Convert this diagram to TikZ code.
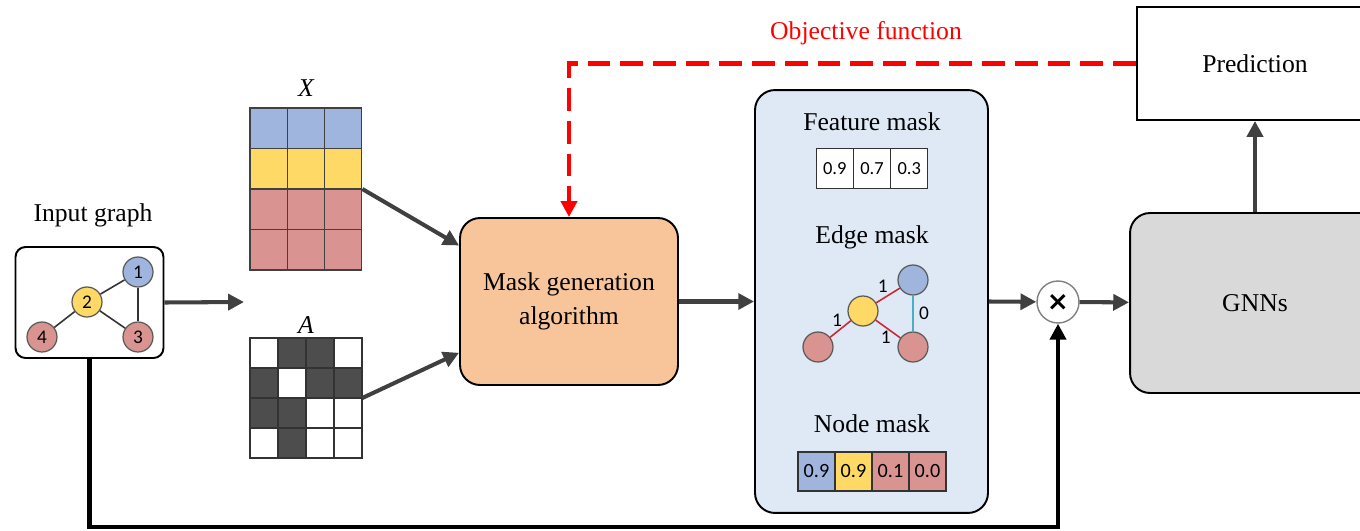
\documentclass[tikz,border=0pt]{standalone}
\usepackage{fontspec}
\setmainfont{Liberation Serif}
\newfontfamily\numfont{Carlito}
\newfontfamily\symfont{DejaVu Sans}
\usetikzlibrary{arrows.meta}
\definecolor{nodeblue}{RGB}{160,181,222}
\definecolor{nodeyellow}{RGB}{255,217,102}
\definecolor{nodered}{RGB}{217,148,145}
\definecolor{cellgray}{RGB}{77,77,77}
\definecolor{arrowgray}{RGB}{64,64,64}
\definecolor{maskorange}{RGB}{248,197,154}
\definecolor{panelblue}{RGB}{222,233,245}
\definecolor{gnngray}{RGB}{217,217,217}
\definecolor{edgered}{RGB}{204,40,50}
\definecolor{edgecyan}{RGB}{75,172,198}
\tikzset{
	flow/.style={line width=2.3pt,draw=arrowgray,-{Triangle[length=9pt,width=9pt]}},
	back/.style={line width=2.3pt,draw=black,-{Triangle[length=9pt,width=9pt]}},
	objective/.style={line width=2.8pt,draw=red,dash pattern=on 13pt off 5.7pt,-{Triangle[length=9pt,width=9pt]}},
	title/.style={font=\fontsize{14.6}{19}\selectfont},
	gnode/.style={circle,draw=black!65,line width=0.7pt,minimum size=0.6cm,inner sep=0pt,font=\numfont\fontsize{11}{11}\selectfont},
	cell/.style={draw=black!80,line width=0.6pt,minimum width=0.74cm,minimum height=0.8cm,inner sep=0pt,font=\numfont\fontsize{10.5}{10.5}\selectfont},
	block/.style={draw=black,line width=1.1pt,rounded corners=0.4cm,title},
	glink/.style={line width=0.9pt,draw=black!80},
	mlink/.style={line width=0.9pt,draw=edgered},
	elabel/.style={inner sep=1pt,font=\numfont\fontsize{11}{11}\selectfont},
}
\begin{document}
\begin{tikzpicture}[x=0.02cm,y=-0.02cm]
	\clip (0,0) rectangle (1360,531);
	% input graph
	\node [title] at (93,215) {Input graph};
	\node (ingraph) [draw=black,line width=1.1pt,rounded corners=0.2cm,minimum width=2.96cm,minimum height=2.22cm] at (89.5,302.5) {};
	\node (n1) [gnode,fill=nodeblue] at (138,272) {1};
	\node (n2) [gnode,fill=nodeyellow] at (87,302) {2};
	\node (n3) [gnode,fill=nodered] at (138,337) {3};
	\node (n4) [gnode,fill=nodered] at (42,337) {4};
	\draw [glink] (n1)--(n2);
	\draw [glink] (n1)--(n3);
	\draw [glink] (n2)--(n3);
	\draw [glink] (n2)--(n4);
	\coordinate (split) at (244,302);
	\draw [flow] (ingraph.east)--(split);
	% feature matrix X
	\node [title] at (306,88) {\itshape X};
	\foreach \r/\c in {0/nodeblue,1/nodeyellow,2/nodered,3/nodered}
		\foreach \k in {0,1,2}
			\draw [fill=\c,draw=black!75,line width=0.6pt] (250+37.3*\k,108+40.5*\r) rectangle ++(37.3,40.5);
	\node (xmat) [minimum width=2.24cm,minimum height=3.24cm,inner sep=0pt] at (306,189) {};
	% adjacency matrix A
	\node [title] at (306,325) {\itshape A};
	\foreach \k in {0,...,3}
		\foreach \r in {0,...,3}
			\draw [fill=white,draw=black!80,line width=0.6pt] (250+28*\k,338+30*\r) rectangle ++(28,30);
	\foreach \k/\r in {1/0,2/0,0/1,2/1,3/1,0/2,1/2,1/3}
		\draw [fill=cellgray,draw=black!80,line width=0.6pt] (250+28*\k,338+30*\r) rectangle ++(28,30);
	\node (amat) [minimum width=2.24cm,minimum height=2.4cm,inner sep=0pt] at (306,398) {};
	% mask generation
	\node (maskgen) [block,fill=maskorange,minimum width=4.36cm,minimum height=3.34cm,align=center] at (569,301.5) {Mask generation\\algorithm};
	\draw [flow] (xmat.east)--(maskgen.153);
	\draw [flow] (amat.east)--(maskgen.205);
	% masks
	\node (panel) [block,fill=panelblue,minimum width=4.66cm,minimum height=8.46cm] at (871.5,301.5) {};
	\draw [flow] (maskgen.east)--(panel.west);
	\node [title] at (872,122) {Feature mask};
	\foreach \v [count=\i] in {0.9,0.7,0.3}
		\node (f\i) [cell,fill=white] at (797.4+37.3*\i,168.5) {\v};
	\node [title] at (872,237) {Edge mask};
	\node (e1) [gnode,fill=nodeblue] at (913,280) {};
	\node (e2) [gnode,fill=nodeyellow] at (863,311) {};
	\node (e3) [gnode,fill=nodered] at (818,347) {};
	\node (e4) [gnode,fill=nodered] at (913,347) {};
	\draw [mlink] (e2)--node [elabel,above,xshift=-3pt] {1} (e1);
	\draw [mlink] (e2)--node [elabel,above,xshift=-2pt] {1} (e3);
	\draw [mlink] (e2)--node [elabel,below left,xshift=3pt] {1} (e4);
	\draw [line width=0.9pt,draw=edgecyan] (e1)--node [elabel,right,xshift=2pt] {0} (e4);
	\node [title] at (872,424) {Node mask};
	\foreach \v/\c [count=\i] in {0.9/nodeblue,0.9/nodeyellow,0.1/nodered,0.0/nodered}
		\node (m\i) [cell,fill=\c,minimum height=0.78cm,font=\numfont\fontsize{11.5}{11.5}\selectfont] at (779.5+37*\i,471.5) {\v};
	% model
	\node (times) [circle,draw=black!50,line width=0.8pt,fill=white,minimum size=0.84cm,inner sep=0pt] at (1058,302) {\symfont\bfseries\fontsize{15}{15}\selectfont ×};
	\node (gnn) [block,fill=gnngray,minimum width=5cm,minimum height=3.6cm] at (1255,303) {GNNs};
	\node (pred) [draw=black,line width=1.1pt,minimum width=4.72cm,minimum height=2.26cm,title] at (1255,63.5) {Prediction};
	\draw [flow] (panel.east)--(times);
	\draw [flow] (times)--(gnn);
	\draw [flow] (gnn)--(pred);
	\coordinate (loop) at (1058,527);
	\draw [back] (ingraph.south) |- (loop)--(times.south);
	\draw [objective] (pred.west) -| (maskgen.north);
	\node [title,text=red] at (866,33) {Objective function};
\end{tikzpicture}
\end{document}
